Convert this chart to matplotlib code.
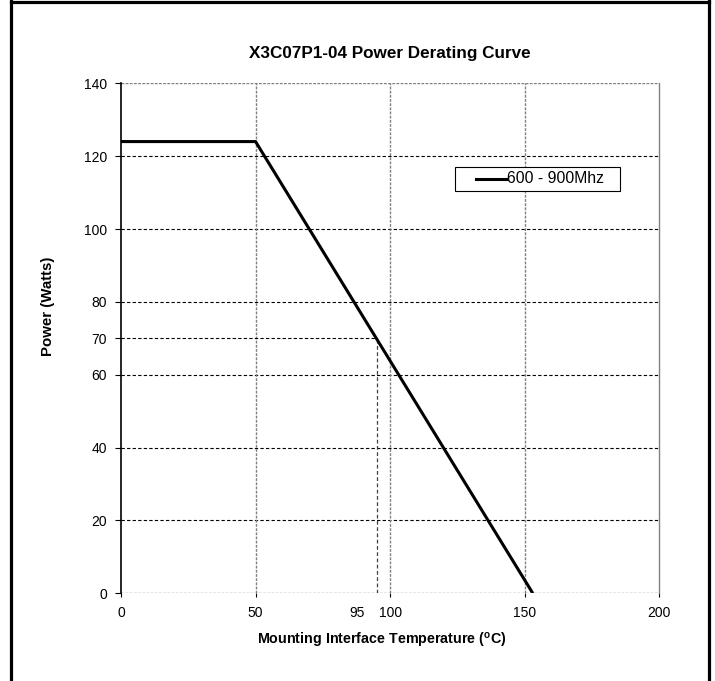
import matplotlib.pyplot as plt
import matplotlib.transforms as mtransforms
from matplotlib.lines import Line2D
from matplotlib.offsetbox import AnchoredOffsetbox, DrawingArea, HPacker, TextArea

plt.rcParams['font.family'] = ['Liberation Sans', 'DejaVu Sans']
plt.rcParams['mathtext.fontset'] = 'custom'
plt.rcParams['mathtext.rm'] = 'Liberation Sans'
plt.rcParams['mathtext.bf'] = 'Liberation Sans:bold'

# ====================== DONNEES ======================
temperature = [0, 50, 153]
power = [124, 124, 0]
series_label = "600 - 900Mhz"

point_temp = 95
point_power = 70

x_ticks = [0, 50, 100, 150, 200]
y_ticks = [0, 20, 40, 60, 80, 100, 120, 140]

# ====================== FIGURE ======================
fig = plt.figure(figsize=(7.15, 6.81), dpi=100)
ax = fig.add_axes([0.1692, 0.1288, 0.7529, 0.7489])

ax.set_xlim(0, 200)
ax.set_ylim(0, 140)

# grille horizontale (noire, tirets) et verticale (grise, pointillés)
for y in y_ticks[1:-1]:
    ax.axhline(y, color='black', lw=0.8, ls=(0, (3, 2)), zorder=1)
for y in (y_ticks[0], y_ticks[-1]):
    ax.axhline(y, color='#808080', lw=1.0, ls=(0, (2, 1)), zorder=1)
for x in x_ticks[1:-1]:
    ax.axvline(x, color='#808080', lw=1.0, ls=(0, (2, 1)), zorder=1)

# repère 95 / 70
ax.plot([0, point_temp], [point_power, point_power], color='black', lw=0.8, ls=(0, (3, 2)), zorder=1)
ax.plot([point_temp, point_temp], [0, point_power], color='#404040', lw=0.9, ls=(0, (3, 2)), zorder=1)

curve, = ax.plot(temperature, power, color='black', lw=2.2, zorder=3, solid_capstyle='butt')

for s in ('top', 'bottom'):
    ax.spines[s].set_visible(False)
ax.spines['right'].set_color('#808080')
ax.spines['right'].set_linewidth(1.0)
ax.spines['left'].set_color('black')
ax.spines['left'].set_linewidth(1.2)

ax.set_yticks(sorted(y_ticks + [point_power]))
ax.set_xticks(sorted(x_ticks + [point_temp]))
ax.tick_params(axis='y', direction='out', length=4, width=0.8, labelsize=10, pad=6)
ax.tick_params(axis='x', direction='out', length=3, width=0.8, labelsize=10, pad=6)

# décaler le label 95 vers la gauche
for lbl, val in zip(ax.get_xticklabels(), ax.get_xticks()):
    if val == point_temp:
        lbl.set_transform(lbl.get_transform() + mtransforms.ScaledTranslation(-20 / 100, 0, fig.dpi_scale_trans))
for tick in ax.xaxis.get_major_ticks():
    if tick.get_loc() == point_temp:
        tick.tick1line.set_visible(False)

ax.set_title("X3C07P1-04 Power Derating Curve", fontsize=12.3, fontweight='bold', pad=18)
ax.set_xlabel(r"Mounting Interface Temperature (${}^{\mathbf{o}}$C)", fontsize=10.3, fontweight='bold')
ax.xaxis.set_label_coords(0.485, -0.092)
ax.xaxis.label.set_verticalalignment('center')
ax.set_ylabel("Power (Watts)", fontsize=10.8, fontweight='bold')
ax.yaxis.set_label_coords(-0.1356, 0.562)
ax.yaxis.label.set_verticalalignment('center')

# légende (cadre noir, trait à gauche avec marge) - tailles en points
handle = DrawingArea(34, 11, 0, 0)
handle.add_artist(Line2D([11.7, 34], [5.5, 5.5], color=curve.get_color(), lw=curve.get_linewidth()))
text = TextArea(series_label, textprops=dict(fontsize=11.3))
spacer = DrawingArea(8.9, 1, 0, 0)
box = HPacker(children=[handle, text, spacer], align='center', pad=0, sep=0)
leg = AnchoredOffsetbox(loc='upper left', child=box, pad=0.3, borderpad=0, frameon=True,
                        bbox_to_anchor=(0.621, 0.836), bbox_transform=ax.transAxes)
leg.patch.set_edgecolor('black')
leg.patch.set_linewidth(0.8)
leg.patch.set_boxstyle('square', pad=0)
ax.add_artist(leg)

# cadre de la figure
fig.add_artist(Line2D([10.5 / 715, 10.5 / 715], [0, 1], color='black', lw=2.3, transform=fig.transFigure))
fig.add_artist(Line2D([708.5 / 715, 708.5 / 715], [0, 1], color='black', lw=2.3, transform=fig.transFigure))
fig.add_artist(Line2D([10.5 / 715, 708.5 / 715], [1 - 1.5 / 681, 1 - 1.5 / 681], color='black', lw=2.3,
                      transform=fig.transFigure))

fig.savefig("out.png", dpi=100)
